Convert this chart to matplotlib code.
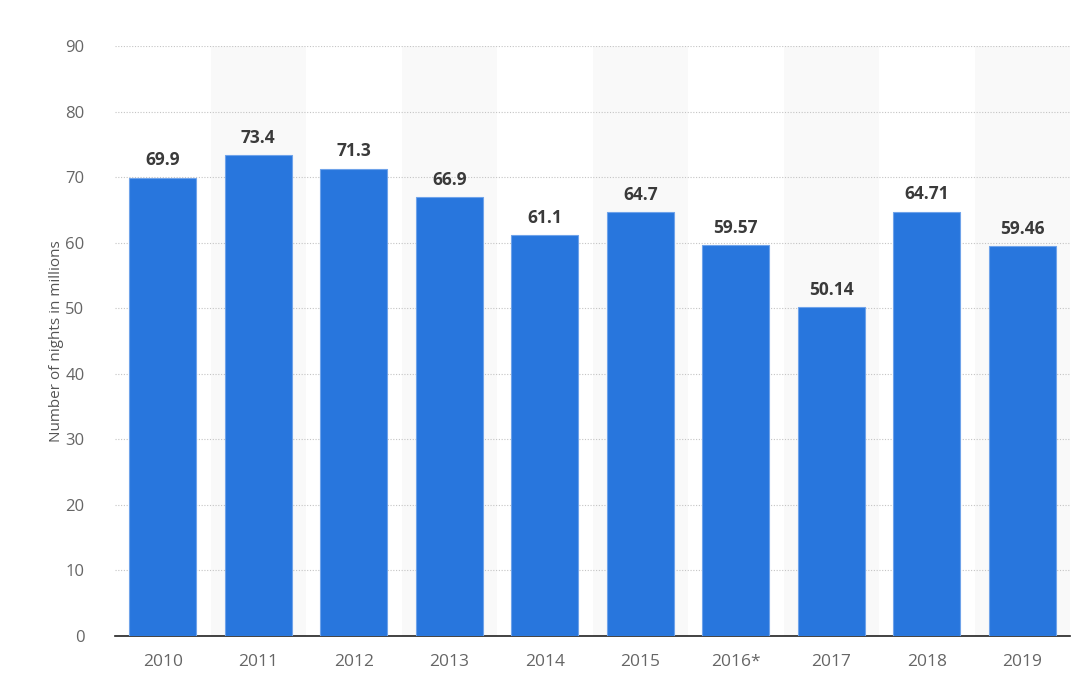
import numpy as np
import matplotlib.pyplot as plt

plt.rcParams['font.family'] = ['Open Sans', 'DejaVu Sans']

years = ['2010', '2011', '2012', '2013', '2014', '2015', '2016*', '2017', '2018', '2019']
nights = [69.9, 73.4, 71.3, 66.9, 61.1, 64.7, 59.57, 50.14, 64.71, 59.46]
value_labels = ['69.9', '73.4', '71.3', '66.9', '61.1', '64.7', '59.57', '50.14', '64.71', '59.46']
y_ticks = [0, 10, 20, 30, 40, 50, 60, 70, 80, 90]

BAR_COLOR = '#2876dd'

fig = plt.figure(figsize=(10.87, 6.88), dpi=100)
ax = fig.add_axes([0.1058, 0.0756, 0.8786, 0.8575])

x = np.arange(len(years))

# alternating background bands
for i in x:
    if i % 2 == 1:
        ax.axvspan(i - 0.5, i + 0.5, color='#f9f9f9', zorder=0, lw=0)

ax.bar(x, nights, width=0.7, color=BAR_COLOR, edgecolor='#6fa3ea', linewidth=0.8, zorder=3)

for xi, v, lbl in zip(x, nights, value_labels):
    ax.annotate(lbl, (xi, v), xytext=(0, 6), textcoords='offset points',
                ha='center', va='bottom', fontsize=12.5,
                fontweight='bold', color='#3a3a3a', zorder=4)

ax.set_xlim(-0.5, len(years) - 0.5)
ax.set_ylim(0, 90)
ax.set_yticks(y_ticks)
ax.set_xticks(x)
ax.set_xticklabels(years)

ax.grid(axis='y', linestyle=(0, (1, 1.5)), color='#c4c4c4', linewidth=0.8, zorder=1)
ax.set_axisbelow(True)

for side in ['top', 'right', 'left']:
    ax.spines[side].set_visible(False)
ax.spines['bottom'].set_color('#222222')
ax.spines['bottom'].set_linewidth(1.2)

ax.tick_params(axis='both', length=0, labelcolor='#666666')
ax.tick_params(axis='x', pad=13, labelsize=12.5)
ax.tick_params(axis='y', pad=22, labelsize=12)

ax.set_ylabel('Number of nights in millions', fontsize=11, color='#555555', labelpad=1)

fig.savefig('out.png', dpi=100)
